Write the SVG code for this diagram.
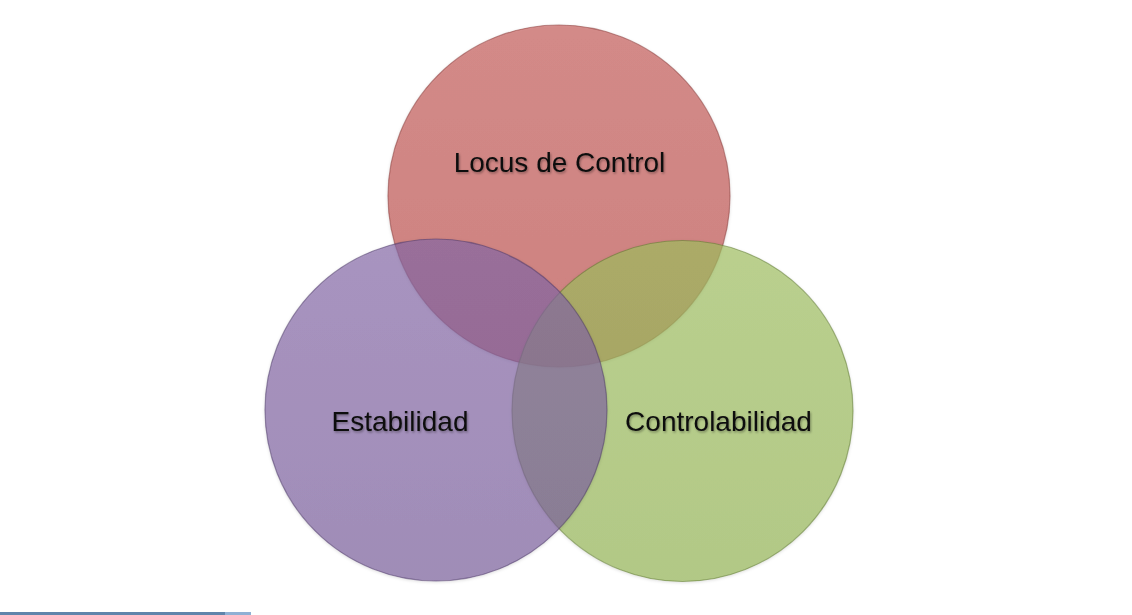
<svg xmlns="http://www.w3.org/2000/svg" width="1132" height="615" viewBox="0 0 1132 615">
<style>
.c{stroke-width:1.2;stroke-opacity:0.55}
.t{font-family:"Liberation Sans",Arial,sans-serif;font-size:28px;fill:#111;text-anchor:middle;filter:url(#ts)}
</style>
<defs>
<linearGradient id="gr" x1="0" y1="0" x2="0" y2="1"><stop offset="0" stop-color="#c45a57"/><stop offset="1" stop-color="#bd4d4a"/></linearGradient>
<linearGradient id="gp" x1="0" y1="0" x2="0" y2="1"><stop offset="0" stop-color="#8568a8"/><stop offset="1" stop-color="#7a5e9c"/></linearGradient>
<linearGradient id="gg" x1="0" y1="0" x2="0" y2="1"><stop offset="0" stop-color="#a0c060"/><stop offset="1" stop-color="#94b554"/></linearGradient>
<filter id="ts" x="-10%" y="-30%" width="120%" height="160%"><feDropShadow dx="1" dy="1.5" stdDeviation="1" flood-color="#000" flood-opacity="0.35"/></filter>
<filter id="cs" x="-5%" y="-5%" width="110%" height="110%"><feDropShadow dx="0" dy="1" stdDeviation="1.5" flood-color="#000" flood-opacity="0.18"/></filter>
</defs>
<rect width="1132" height="615" fill="#fff"/>
<g id="locus" filter="url(#cs)">
<circle class="c" cx="559" cy="196" r="171" fill="url(#gr)" fill-opacity="0.66" stroke="#8a3a38"/>
</g>
<g id="controlabilidad" filter="url(#cs)">
<circle class="c" cx="682.5" cy="411" r="170.5" fill="url(#gg)" fill-opacity="0.66" stroke="#5e7a30"/>
</g>
<g id="estabilidad" filter="url(#cs)">
<circle class="c" cx="436" cy="410" r="171" fill="url(#gp)" fill-opacity="0.66" stroke="#4e3a6a"/>
</g>
<g id="labels">
<text class="t" x="559.5" y="172">Locus de Control</text>
<text class="t" x="400" y="431">Estabilidad</text>
<text class="t" x="718.5" y="431">Controlabilidad</text>
</g>
<g id="bar">
<rect x="0" y="612" width="225" height="3" fill="#5f84ab"/>
<rect x="225" y="612" width="26" height="3" fill="#8fb0d4"/>
</g>
</svg>
